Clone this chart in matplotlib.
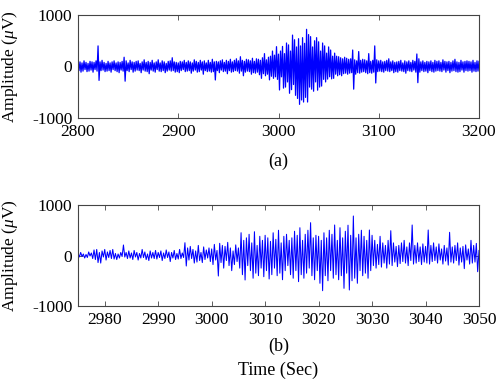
import numpy as np
import matplotlib
matplotlib.use("Agg")
import matplotlib.pyplot as plt

plt.rcParams['font.family'] = ['Liberation Serif', 'DejaVu Serif']
plt.rcParams['mathtext.fontset'] = 'custom'
plt.rcParams['mathtext.rm'] = 'Liberation Serif'
plt.rcParams['mathtext.it'] = 'Liberation Serif:italic'
plt.rcParams['axes.unicode_minus'] = False

# ---- data ----
# (a) signal, 1 s steps from 2800 to 3200 s (amplitude in uV)
a_start = 2800
a_step = 1.0
a_vals = [
    130, -80, 90, -110, 70, -90, 110, -60, 80, -100,
    60, -90, 100, -70, 90, -110, 80, -60, 110, -90,
    400, -270, 90, -80, 120, -70, 80, -100, 60, -90,
    100, -80, 70, -110, 90, -60, 110, -80, 70, -100,
    90, -120, 80, -70, 100, -90, 180, -285, 110, -80,
    70, -100, 120, -60, 90, -110, 80, -90, 100, -70,
    110, -80, 60, -120, 90, -70, 130, -90, 80, -100,
    100, -140, 80, -70, 120, -90, 70, -110, 90, -60,
    130, -90, 70, -100, 110, -80, 90, -120, 60, -90,
    100, -70, 110, -90, 170, -80, 90, -110, 80, -100,
    70, -120, 100, -80, 90, -60, 120, -100, 80, -90,
    110, -80, 90, -130, 70, -90, 130, -70, 100, -110,
    80, -100, 120, -70, 90, -150, 110, -80, 70, -100,
    120, -90, 80, -110, 140, -100, 90, -262, 100, -80,
    90, -120, 110, -70, 130, -100, 80, -90, 120, -140,
    100, -80, 140, -110, 90, -100, 120, -80, 150, -90,
    110, -130, 190, -90, 120, -180, 100, -110, 140, -90,
    130, -100, 110, -150, 160, -120, 100, -130, 150, -110,
    140, -160, 120, -230, 170, -140, 250, -180, 130, -150,
    180, -260, 200, -190, 300, -230, 220, -200, 385, -250,
    240, -456, 300, -200, 390, -420, 250, -400, 456, -300,
    420, -520, 300, -450, 610, -350, 520, -560, 380, -620,
    540, -735, 400, -650, 560, -690, 450, -600, 722, -690,
    620, -400, 580, -440, 380, -480, 500, -300, 560, -460,
    480, -400, 300, -380, 456, -250, 400, -300, 260, -245,
    380, -200, 320, -240, 200, -230, 260, -150, 200, -180,
    190, -160, 170, -180, 150, -140, 180, -130, 160, -150,
    140, -130, 150, -120, 320, -440, 130, -150, 110, -120,
    290, -130, 120, -110, 140, -100, 130, -120, 110, -140,
    250, -120, 100, -130, 120, -110, 400, -320, 130, -100,
    110, -90, 120, -100, 90, -110, 100, -80, 120, -90,
    150, -100, 90, -80, 110, -120, 80, -100, 90, -110,
    100, -80, 120, -90, 70, -100, 110, -130, 90, -80,
    110, -90, 80, -100, 120, -70, 100, -110, 243, -314,
    150, -110, 90, -80, 110, -100, 80, -90, 100, -120,
    90, -80, 110, -100, 80, -110, 120, -90, 100, -80,
    110, -90, 80, -100, 130, -70, 100, -110, 90, -80,
    100, -120, 80, -90, 110, -80, 140, -100, 90, -110,
    80, -100, 120, -70, 90, -110, 100, -80, 110, -90,
    100, -80, 90, -110, 120, -90, 80, -100, 110, -90,
    100,
]

# (b) signal, 0.25 s steps from 2975 to 3050 s (amplitude in uV)
b_start = 2975
b_step = 0.25
b_vals = [
    40, -30, 60, -20, 30, -50, 20, -40, 70, -10, 50, -60, 110, -80, 120, -140, 60, -150, 90, -30,
    120, -90, 70, -40, 100, -60, 120, -70, 40, -80, 30, -50, 60, -20, 208, -30, 60, -60, 90, -50,
    50, -80, 100, -30, 60, -90, 40, -50, 120, -40, 70, -80, 30, -100, 90, -50, 60, -60, 100, -70,
    60, -40, 90, -100, 50, -60, 110, -40, 70, -120, 60, -50, 100, -80, 40, -70, 120, -60, 50, -40,
    253, -208, 150, -90, 180, -60, 120, -150, 90, -130, 200, -100, 60, -140, 170, -80, 110, -50, 150, -120,
    130, -180, 220, -90, 100, -406, 241, -140, 200, -250, 180, -100, 260, -200, 150, -300, 90, -180, 210, -120,
    150, -250, 451, -380, 300, -485, 350, -200, 420, -300, 250, -450, 471, -350, 200, -400, 380, -250, 300, -420,
    400, -300, 350, -465, 280, -380, 450, -250, 320, -400, 500, -350, 250, -480, 380, -300, 420, -200, 300, -380,
    350, -450, 480, -300, 400, -518, 550, -380, 300, -450, 420, -350, 500, -250, 650, -400, 350, -480, 400, -300,
    380, -550, 300, -697, 450, -400, 350, -500, 500, -300, 420, -450, 604, -380, 300, -480, 550, -400, 350, -650,
    480, -350, 600, -683, 400, -500, 782, -450, 350, -550, 420, -300, 500, -400, 380, -350, 300, -450, 505, -300,
    400, -200, 300, -250, 220, -180, 380, -230, 250, -150, 200, -250, 300, -170, 491, -200, 250, -130, 180, -220,
    200, -160, 250, -120, 300, -150, 170, -200, 250, -100, 604, -170, 200, -150, 250, -120, 170, -180, 230, -130,
    180, -150, 505, -170, 200, -120, 250, -100, 170, -150, 230, -90, 130, -170, 200, -110, 150, -190, 459, -130,
    170, -150, 200, -100, 250, -190, 150, -130, 180, -260, 210, -90, 130, -170, 300, -150, 200, -130, 240, -321,
    100,
]

a_xlim = (2800, 3200)
a_xticks = [2800, 2900, 3000, 3100, 3200]
b_xlim = (2975, 3050)
b_xticks = [2980, 2990, 3000, 3010, 3020, 3030, 3040, 3050]
yticks = [-1000, 0, 1000]
ylim = (-1000, 1000)

ta = a_start + a_step * np.arange(len(a_vals))
tb = b_start + b_step * np.arange(len(b_vals))

W, H = 499, 382
fig = plt.figure(figsize=(W / 100, H / 100), dpi=100)
ax1 = fig.add_axes([78 / W, 1 - 118 / H, 401 / W, 103 / H])
ax2 = fig.add_axes([78 / W, 1 - 306 / H, 401 / W, 101 / H])

axcol = '#444444'
for ax, t, v, xl, xt, lw in [(ax1, ta, a_vals, a_xlim, a_xticks, 0.9),
                             (ax2, tb, b_vals, b_xlim, b_xticks, 0.75)]:
    ax.plot(t, v, color='#0000ff', lw=lw)
    ax.set_xlim(*xl)
    ax.set_ylim(*ylim)
    ax.set_xticks(xt)
    ax.set_yticks(yticks)
    ax.tick_params(direction='in', top=True, right=True, length=3.5,
                   width=0.6, color=axcol, labelsize=12.5, pad=4)
    for s in ax.spines.values():
        s.set_color(axcol)
        s.set_linewidth(0.8)
    ax.set_ylabel(r'Amplitude ($\mu$V)', fontsize=12.5)
    ax.yaxis.set_label_coords(-0.145, 0.5)

cx = (78 + 401 / 2) / W
fig.text(cx, 1 - 161 / H, '(a)', ha='center', va='center', fontsize=13)
fig.text(cx, 1 - 346 / H, '(b)', ha='center', va='center', fontsize=13)
fig.text(cx, 1 - 370 / H, 'Time (Sec)', ha='center', va='center', fontsize=13)

fig.savefig('out.png', dpi=100)
